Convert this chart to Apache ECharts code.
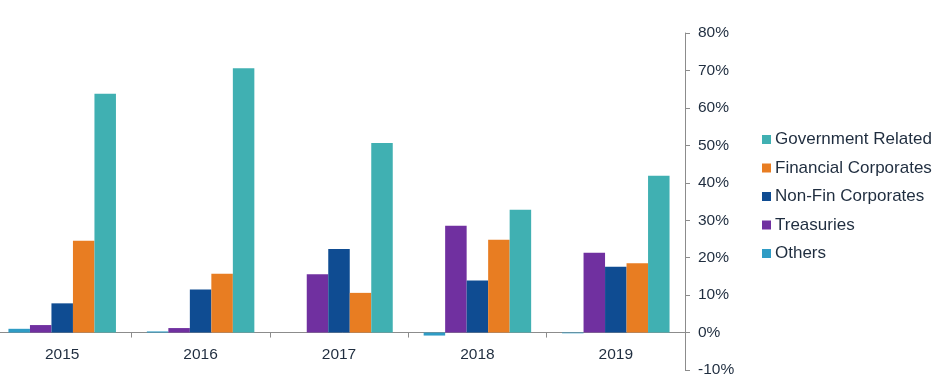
<!DOCTYPE html>
<html><head><meta charset="utf-8">
<script src="https://cdn.jsdelivr.net/npm/echarts@6/dist/echarts.min.js"></script>
<style>html,body{margin:0;padding:0;background:#fff}#c{width:946px;height:389px}</style>
</head><body><div id="c"></div>
<script>
const categories = ['2015','2016','2017','2018','2019'];
const others = [1.0, 0.3, 0.0, -0.8, -0.2];
const treasuries = [2.0, 1.2, 15.6, 28.5, 21.3];
const nonFin = [7.8, 11.5, 22.3, 13.9, 17.6];
const financial = [24.5, 15.7, 10.6, 24.8, 18.5];
const government = [63.8, 70.6, 50.6, 32.8, 41.9];
const legendOrder = ['Government Related','Financial Corporates','Non-Fin Corporates','Treasuries','Others'];

const textColor = '#1f2d3f';
const font = 'Liberation Sans, Arial, sans-serif';
function s(name, data, color){
  return {name, type:'bar', data, barWidth:21.5, barGap:'0%', itemStyle:{color}};
}
const chart = echarts.init(document.getElementById('c'));
chart.setOption({
  animation:false,
  textStyle:{fontFamily:font},
  grid:{left:-7, right:261, top:33, bottom:19, containLabel:false, outerBoundsMode:'none'},
  legend:{
    orient:'vertical', left:762, top:131, padding:0, itemWidth:9, itemHeight:9, itemGap:11.5,
    icon:'rect', data:legendOrder,
    textStyle:{fontSize:17, color:textColor, fontFamily:font, lineHeight:17, padding:[0,0,0,-1]}
  },
  xAxis:{
    type:'category', data:categories,
    axisLine:{show:true, onZero:true, lineStyle:{color:'#8c8c8c', width:1}},
    axisTick:{show:true, alignWithLabel:false, length:5, lineStyle:{color:'#8c8c8c'}},
    axisLabel:{color:textColor, fontSize:15.5, fontFamily:font, margin:-23},
    splitLine:{show:false}
  },
  yAxis:{
    type:'value', position:'right', min:-10, max:80, interval:10,
    axisLine:{show:true, lineStyle:{color:'#8c8c8c', width:1}},
    axisTick:{show:true, length:5, lineStyle:{color:'#8c8c8c'}},
    axisLabel:{color:textColor, fontSize:15.5, fontFamily:font, margin:13, formatter:'{value}%'},
    splitLine:{show:false}
  },
  series:[
    s('Others', others, '#2f9cc5'),
    s('Treasuries', treasuries, '#7030a0'),
    s('Non-Fin Corporates', nonFin, '#0f4c92'),
    s('Financial Corporates', financial, '#e87d22'),
    s('Government Related', government, '#40b0b2')
  ]
});
</script></body></html>
